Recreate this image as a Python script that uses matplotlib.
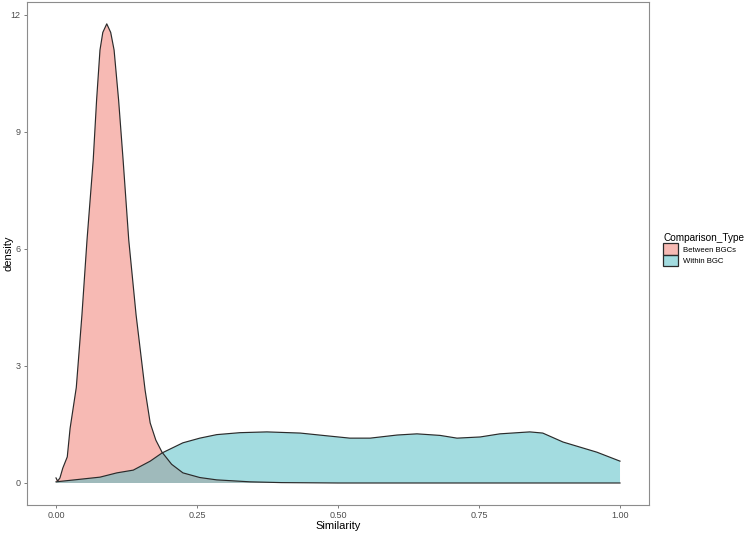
import numpy as np
import matplotlib
matplotlib.use("Agg")
import matplotlib.pyplot as plt
from matplotlib.patches import Patch

plt.rcParams['font.family'] = ['Liberation Sans', 'DejaVu Sans']

# density curves
between_x = [0.000, 0.003, 0.007, 0.012, 0.020, 0.025, 0.036, 0.046, 0.055, 0.066,
             0.072, 0.078, 0.083, 0.090, 0.097, 0.103, 0.111, 0.119, 0.129, 0.142,
             0.158, 0.167, 0.177, 0.188, 0.205, 0.225, 0.255, 0.285, 0.344, 0.400,
             0.500, 0.600, 0.700, 0.800, 0.900, 1.000]
between_y = [0.13, 0.05, 0.13, 0.38, 0.67, 1.40, 2.45, 4.31, 6.23, 8.28,
             9.82, 11.10, 11.55, 11.77, 11.55, 11.10, 9.82, 8.28, 6.23, 4.31,
             2.38, 1.54, 1.10, 0.79, 0.48, 0.26, 0.14, 0.08, 0.03, 0.01,
             0.0, 0.0, 0.0, 0.0, 0.0, 0.0]

within_x = [0.000, 0.078, 0.108, 0.137, 0.167, 0.188, 0.225, 0.255, 0.285, 0.326,
            0.374, 0.433, 0.480, 0.521, 0.557, 0.605, 0.640, 0.681, 0.711, 0.752,
            0.787, 0.840, 0.863, 0.899, 0.929, 0.959, 1.000]
within_y = [0.03, 0.15, 0.26, 0.33, 0.56, 0.77, 1.03, 1.15, 1.24, 1.29,
            1.31, 1.28, 1.21, 1.15, 1.15, 1.23, 1.26, 1.22, 1.15, 1.18,
            1.26, 1.31, 1.28, 1.05, 0.92, 0.79, 0.56]

groups = ["Between BGCs", "Within BGC"]
colors = ["#F1776A", "#48BAC2"]
line_col = "#2B2B2B"

fig = plt.figure(figsize=(7.49, 5.33), dpi=100)
ax = fig.add_axes([27 / 749, 28 / 533, 622 / 749, 503 / 533])

for xs, ys, c in [(between_x, between_y, colors[0]), (within_x, within_y, colors[1])]:
    ax.fill_between(xs, 0, ys, facecolor=c, alpha=0.5, linewidth=0)
    ax.plot(xs, ys, color=line_col, linewidth=0.85)

ax.set_xlim(-0.0514, 1.0514)
ax.set_ylim(-0.564, 12.33)
ax.set_xticks([0, 0.25, 0.5, 0.75, 1.0])
ax.set_xticklabels(["0.00", "0.25", "0.50", "0.75", "1.00"])
ax.set_yticks([0, 3, 6, 9, 12])
ax.set_yticklabels(["0", "3", "6", "9", "12"])
ax.tick_params(length=2.5, width=0.6, colors="#666666", labelsize=6.5,
               labelcolor="#4D4D4D", pad=2)
ax.tick_params(axis="x", pad=1.5)
for s in ax.spines.values():
    s.set_color("#8C8C8C")
    s.set_linewidth(0.8)

fig.text(8 / 749, 1 - 253.5 / 533, "density", rotation=90, fontsize=8,
         ha="center", va="center")
fig.text(338 / 749, 1 - 526 / 533, "Similarity", fontsize=8,
         ha="center", va="center")

handles = [Patch(facecolor=c, alpha=0.5, edgecolor=line_col, linewidth=0.9) for c in colors]
leg = fig.legend(handles, groups, title="Comparison_Type", loc="upper left",
                 bbox_to_anchor=(658 / 749, 1 - 228 / 533), frameon=False,
                 fontsize=5.6, title_fontsize=7.2, handlelength=1.9, handleheight=1.9,
                 handletextpad=0.6, labelspacing=0.0, borderpad=0.2)
leg._legend_box.align = "left"
for h in leg.legend_handles:
    h.set_alpha(None)
    fc = h.get_facecolor()
    h.set_facecolor((fc[0], fc[1], fc[2], 0.5))
    h.set_edgecolor(line_col)

fig.savefig("out.png", dpi=100)
